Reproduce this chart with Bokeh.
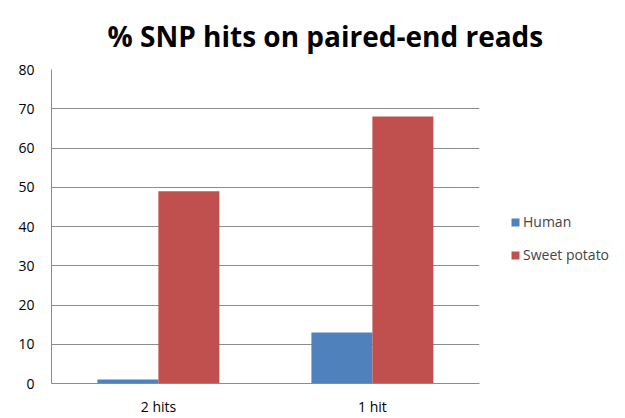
from bokeh.plotting import figure
from bokeh.models import ColumnDataSource, FactorRange, Range1d, Legend, LegendItem, SingleIntervalTicker
from bokeh.transform import dodge
from bokeh.embed import file_html
from bokeh.resources import INLINE

categories = ["2 hits", "1 hit"]
human = [1, 13]
sweet_potato = [49, 68]
series_names = ["Human", "Sweet potato"]

src = ColumnDataSource(dict(cat=categories, human=human, sp=sweet_potato))

p = figure(frame_width=428, frame_height=314, output_backend="svg", toolbar_location=None,
           x_range=FactorRange(*categories, range_padding=0), y_range=Range1d(0, 80),
           min_border_left=51, min_border_right=146, min_border_top=69, min_border_bottom=35)

p.title.text = "% SNP hits on paired-end reads"
p.title.text_font = "Open Sans"
p.title.text_font_size = "28px"
p.title.text_font_style = "bold"
p.title.text_line_height = 0.8
p.title.align = "left"
p.title.offset = 56
p.title.standoff = 29
p.title.text_color = "black"

r1 = p.vbar(x=dodge("cat", -0.143, range=p.x_range), top="human", width=0.285, source=src,
            fill_color="#4F81BD", line_color=None)
r2 = p.vbar(x=dodge("cat", 0.142, range=p.x_range), top="sp", width=0.285, source=src,
            fill_color="#C0504D", line_color=None)

p.outline_line_color = None
p.xgrid.grid_line_color = None
p.ygrid.grid_line_color = "#8c8c8c"
p.ygrid.grid_line_width = 1
p.yaxis.ticker = SingleIntervalTicker(interval=10)
for ax in (p.xaxis, p.yaxis):
    ax.axis_line_color = "#8c8c8c"
    ax.major_tick_line_color = None
    ax.minor_tick_line_color = None
    ax.major_label_text_font = "Open Sans"
    ax.major_label_text_font_size = "14px"
    ax.major_label_text_color = "black"
p.yaxis.major_label_standoff = 11
p.xaxis.major_label_standoff = 7

legend = Legend(items=[LegendItem(label=series_names[0], renderers=[r1]),
                       LegendItem(label=series_names[1], renderers=[r2])],
                location=(31, 119), border_line_color=None, background_fill_alpha=0,
                label_text_font="Open Sans", label_text_font_size="14px",
                glyph_width=10, glyph_height=10, spacing=14, margin=0, padding=0,
                label_standoff=3)
p.add_layout(legend, "right")

open("out.html", "w").write(file_html(p, INLINE))
